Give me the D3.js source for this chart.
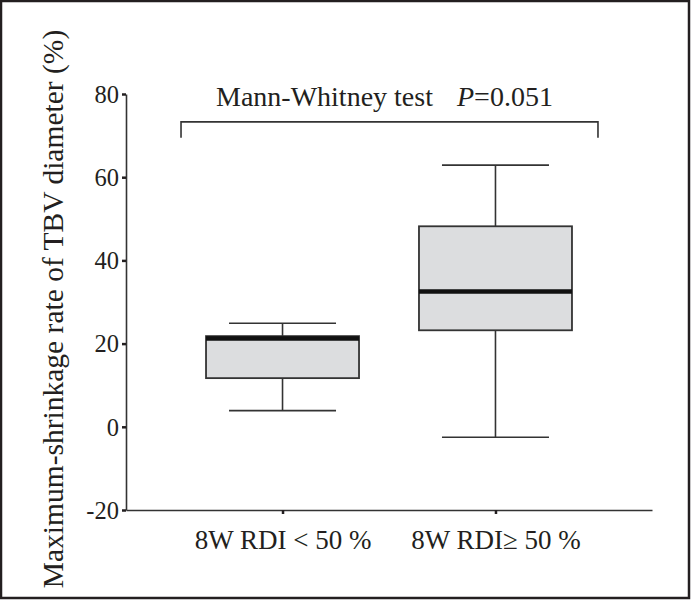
<!DOCTYPE html>
<html>
<head>
<meta charset="utf-8">
<script src="https://cdn.jsdelivr.net/npm/d3@7"></script>
<style>
  html, body { margin: 0; padding: 0; background: #fff; }
  svg { display: block; }
  text { font-family: "Liberation Serif", "Times New Roman", serif; fill: #231f20; }
</style>
</head>
<body>
<div id="chart"></div>
<script>
// ---- data ----
const categories = ["8W RDI < 50 %", "8W RDI\u2265 50 %"];
const whiskerLow  = [3.9, -2.5];
const q1          = [11.7, 23.2];
const median      = [21.2, 32.5];
const q3          = [21.8, 48.2];
const whiskerHigh = [24.9, 62.9];
const yTicks = [-20, 0, 20, 40, 60, 80];
const yLabel = "Maximum-shrinkage rate of TBV diameter (%)";
const testLabel = "Mann-Whitney test";
const pLabel = "0.051";

const W = 691, H = 600;
const svg = d3.select("#chart").append("svg").attr("width", W).attr("height", H);

// outer frame
svg.append("rect").attr("x", 1).attr("y", 1).attr("width", W - 3).attr("height", H - 3)
  .attr("fill", "none").attr("stroke", "#231f20").attr("stroke-width", 2.5);

const x = d3.scalePoint().domain(categories).range([126, 652]).padding(0.735);
const y = d3.scaleLinear().domain([-20, 80]).range([510, 94]);

const ink = "#333";

// y axis
const gy = svg.append("g").attr("transform", "translate(126,0)")
  .call(d3.axisLeft(y).tickValues(yTicks).tickSize(4).tickSizeOuter(0).tickPadding(3)
    .tickFormat(d => String(d)));
gy.select(".domain").attr("stroke", ink).attr("stroke-width", 1.6);
gy.selectAll(".tick line").attr("stroke", "#231f20").attr("stroke-width", 2.5);
gy.selectAll(".tick text").style("font-size", "24.5px").attr("fill", "#231f20")
  .attr("font-family", "Liberation Serif").attr("dy", "0.34em");

// x axis
const gx = svg.append("g").attr("transform", "translate(0,510)")
  .call(d3.axisBottom(x).tickSize(4).tickSizeOuter(0).tickPadding(16));
gx.select(".domain").attr("stroke", ink).attr("stroke-width", 1.6);
gx.selectAll(".tick line").attr("stroke", "#231f20").attr("stroke-width", 2.5);
gx.selectAll(".tick text").style("font-size", "27px").attr("fill", "#231f20")
  .attr("font-family", "Liberation Serif").attr("dy", "0.71em");

// boxes
const boxW = 153, capW = 107;
const data = categories.map((c, i) => ({
  c, lo: whiskerLow[i], q1: q1[i], med: median[i], q3: q3[i], hi: whiskerHigh[i]
}));
const g = svg.append("g");
data.forEach(d => {
  const cx = x(d.c);
  g.append("line").attr("x1", cx).attr("x2", cx).attr("y1", y(d.hi)).attr("y2", y(d.q3))
    .attr("stroke", ink).attr("stroke-width", 1.6);
  g.append("line").attr("x1", cx).attr("x2", cx).attr("y1", y(d.q1)).attr("y2", y(d.lo))
    .attr("stroke", ink).attr("stroke-width", 1.6);
  [d.hi, d.lo].forEach(v => {
    g.append("line").attr("x1", cx - capW / 2).attr("x2", cx + capW / 2)
      .attr("y1", y(v)).attr("y2", y(v)).attr("stroke", ink).attr("stroke-width", 1.6);
  });
  g.append("rect").attr("x", cx - boxW / 2).attr("width", boxW)
    .attr("y", y(d.q3)).attr("height", y(d.q1) - y(d.q3))
    .attr("fill", "#dcdddf").attr("stroke", ink).attr("stroke-width", 1.8);
  g.append("line").attr("x1", cx - boxW / 2).attr("x2", cx + boxW / 2)
    .attr("y1", y(d.med)).attr("y2", y(d.med))
    .attr("stroke", "#111").attr("stroke-width", 4.5);
});

// significance bracket
const bx1 = x(categories[0]) - 101.5, bx2 = x(categories[1]) + 102.5;
const byTop = y(73.3), byBot = y(69.5);
svg.append("path")
  .attr("d", `M${bx1},${byBot}V${byTop}H${bx2}V${byBot}`)
  .attr("fill", "none").attr("stroke", ink).attr("stroke-width", 1.6);

const t = svg.append("text").attr("x", 216).attr("y", 106).style("font-size", "28px");
t.append("tspan").text(testLabel);
t.append("tspan").attr("x", 457).style("font-style", "italic").text("P");
t.append("tspan").text("=" + pLabel);

// y label
svg.append("text")
  .attr("transform", "translate(63,309) rotate(-90)")
  .attr("text-anchor", "middle")
  .style("font-size", "29.5px")
  .text(yLabel);
</script>
</body>
</html>
